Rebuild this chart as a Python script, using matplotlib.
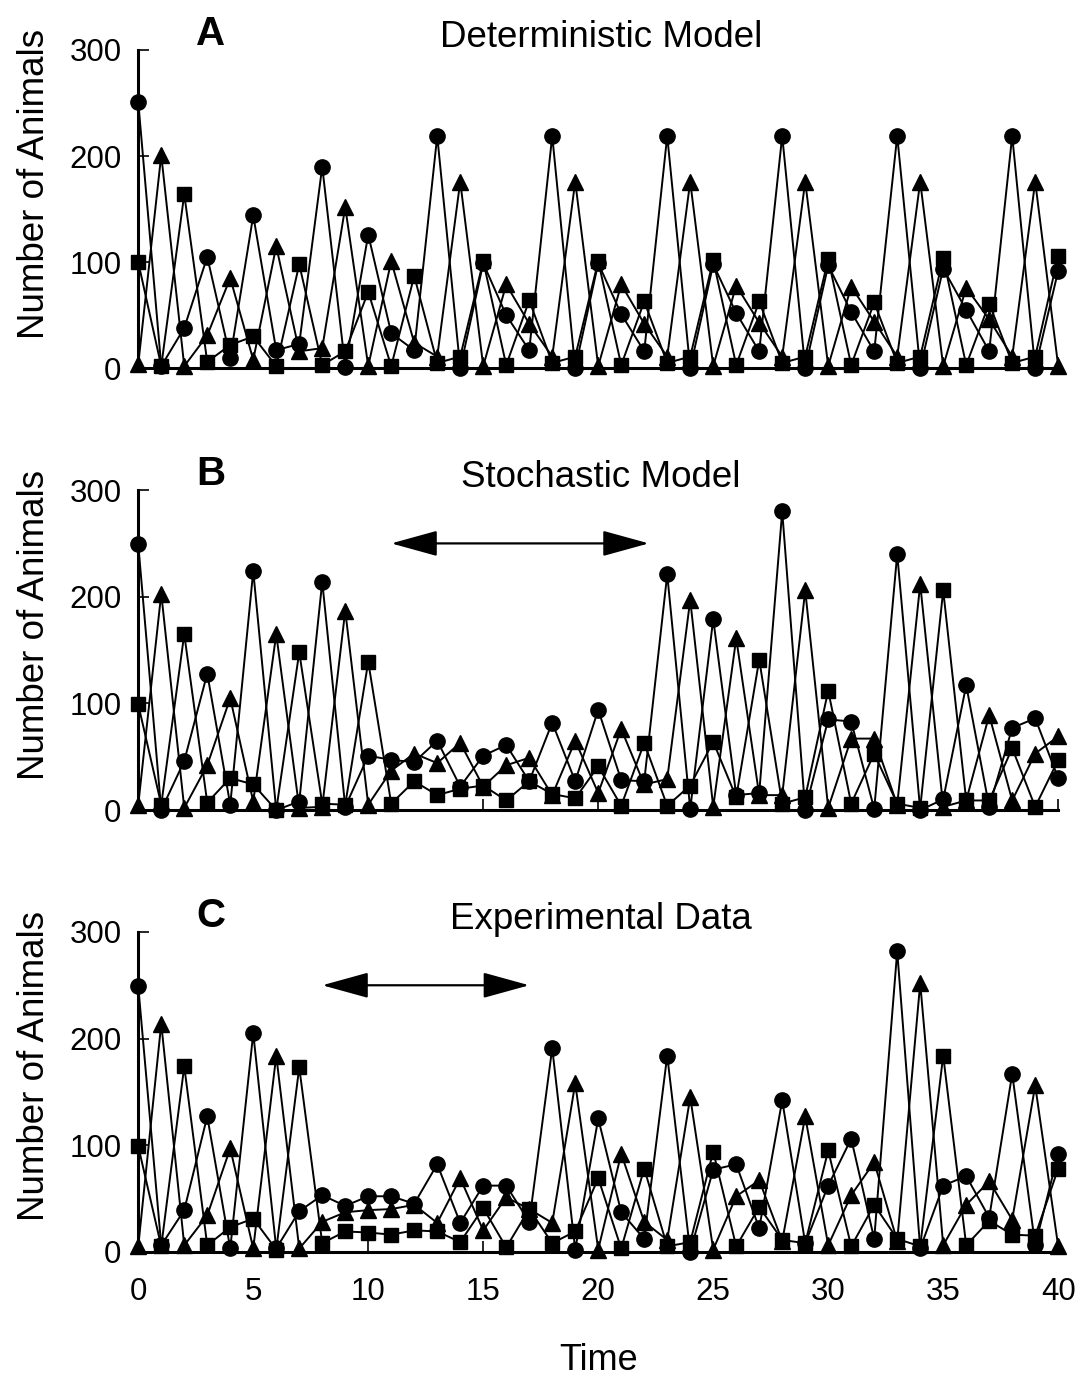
import matplotlib
matplotlib.use("Agg")
import matplotlib.pyplot as plt
import numpy as np

plt.rcParams['font.family'] = ['Liberation Sans', 'DejaVu Sans']

time = np.arange(41)

# A: deterministic model
det_circle = [251, 2, 38, 105, 10, 144, 17, 23, 190, 1, 126, 33, 17, 219, 0, 99, 50, 17, 219, 0,
              99, 51, 16, 219, 0, 98, 52, 16, 219, 0, 97, 53, 16, 219, 0, 94, 55, 16, 219, 0, 92]
det_triangle = [4, 201, 2, 31, 85, 8, 115, 16, 19, 152, 2, 101, 24, 11, 176, 2, 79, 42, 11, 176,
                2, 79, 42, 11, 176, 2, 78, 43, 11, 176, 2, 77, 44, 11, 176, 2, 76, 46, 11, 176, 2]
det_square = [100, 2, 164, 6, 22, 30, 2, 98, 3, 16, 72, 2, 87, 5, 11, 101, 3, 64, 5, 11,
              101, 3, 63, 5, 11, 102, 3, 63, 5, 11, 103, 3, 62, 5, 11, 104, 3, 61, 5, 11, 106]

# B: stochastic model
sto_circle = [249, 0, 46, 128, 5, 224, 0, 8, 214, 3, 51, 47, 45, 65, 22, 51, 61, 27, 82, 27,
              94, 28, 27, 221, 1, 179, 14, 16, 280, 0, 85, 83, 1, 240, 0, 10, 117, 3, 77, 86, 30]
sto_triangle = [5, 203, 2, 42, 105, 8, 165, 2, 3, 187, 5, 37, 53, 44, 63, 22, 42, 49, 14, 65,
                16, 76, 24, 29, 197, 3, 161, 14, 14, 206, 2, 67, 67, 5, 212, 3, 9, 89, 9, 53, 69]
sto_square = [99, 5, 165, 7, 30, 24, 0, 148, 6, 5, 139, 6, 27, 14, 20, 23, 9, 27, 15, 11,
              41, 4, 63, 4, 23, 64, 12, 141, 6, 12, 112, 6, 53, 6, 2, 206, 9, 9, 58, 3, 47]

# C: experimental data
exp_circle = [249, 6, 39, 127, 3, 205, 3, 38, 53, 43, 52, 52, 45, 82, 27, 62, 62, 28, 191, 2,
              125, 37, 12, 184, 0, 77, 82, 22, 142, 8, 62, 106, 12, 282, 3, 62, 71, 32, 167, 6, 92]
exp_triangle = [5, 214, 6, 34, 97, 3, 184, 3, 28, 37, 39, 40, 44, 27, 69, 20, 51, 40, 27, 158,
                2, 92, 28, 11, 145, 2, 52, 67, 10, 127, 6, 53, 84, 10, 252, 6, 44, 66, 30, 156, 5]
exp_square = [99, 5, 174, 6, 23, 31, 2, 173, 8, 19, 18, 16, 20, 19, 9, 41, 4, 40, 8, 19,
              69, 3, 78, 5, 9, 94, 5, 42, 11, 8, 95, 5, 44, 12, 5, 184, 6, 29, 16, 15, 78]

panels = [
    ("A", "Deterministic Model", det_circle, det_triangle, det_square, None),
    ("B", "Stochastic Model", sto_circle, sto_triangle, sto_square, (11, 22.2)),
    ("C", "Experimental Data", exp_circle, exp_triangle, exp_square, (8, 17)),
]
positions = [
    [0.1273, 0.7339, 0.8471, 0.2300],
    [0.1273, 0.4147, 0.8471, 0.2312],
    [0.1273, 0.0956, 0.8471, 0.2310],
]

fig = plt.figure(figsize=(10.86, 13.84), dpi=100)

for k, (letter, title, circ, tri, sq, arrow) in enumerate(panels):
    ax = fig.add_axes(positions[k])
    style = dict(color="black", lw=1.4, clip_on=False)
    ax.plot(time, circ, marker="o", ms=11, **style)
    ax.plot(time, tri, marker="^", ms=11, **style)
    ax.plot(time, sq, marker="s", ms=9.5, **style)

    ax.set_xlim(0, 40)
    ax.set_ylim(0, 300)
    ax.set_yticks([0, 100, 200, 300])
    ax.set_xticks(range(0, 41, 5))
    ax.spines["top"].set_visible(False)
    ax.spines["right"].set_visible(False)
    ax.spines["left"].set_linewidth(2.2)
    ax.spines["bottom"].set_linewidth(2.2)
    ax.tick_params(axis="both", direction="in", length=8, width=1.2, labelsize=22.5)
    ax.tick_params(axis="y", pad=12)
    ax.tick_params(axis="x", pad=18)
    ax.set_ylabel("Number of Animals", fontsize=26.5)
    ax.yaxis.set_label_coords(-0.094, 0.58)
    if k < 2:
        ax.set_xticklabels([])
    else:
        ax.set_xlabel("Time", fontsize=26, labelpad=26)

    ax.text(0.079, 1.05, letter, transform=ax.transAxes, fontsize=29,
            fontweight="bold", ha="center", va="center")
    ax.text(0.503, 1.04, title, transform=ax.transAxes, fontsize=26.5,
            ha="center", va="center")

    if arrow is not None:
        ax.annotate("", xy=(arrow[1], 250), xytext=(arrow[0], 250),
                    arrowprops=dict(arrowstyle="<|-|>,head_length=1.45,head_width=0.4",
                                    mutation_scale=20, color="black", lw=1.6,
                                    shrinkA=0, shrinkB=0))

fig.savefig("out.png", dpi=100)
